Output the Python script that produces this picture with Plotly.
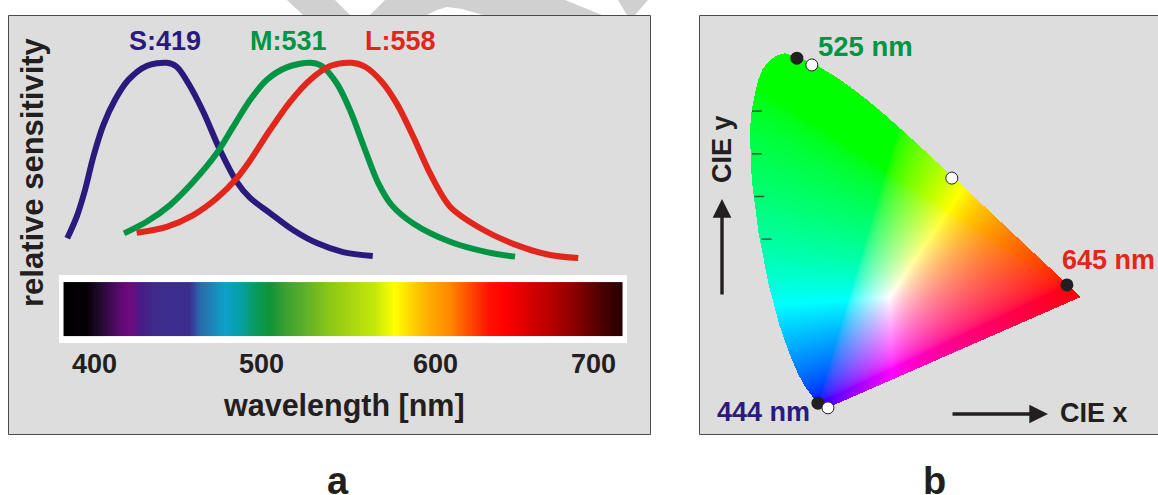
import numpy as np
import plotly.graph_objects as go

W, H = 1158, 495

# ---- panel a data ----
S_NM = [383.3,389,394,399,405,412,420.1,431.1,443.2,449.2,456.2,465.2,475.3,485.4,493.4,505.4,519.3,533.7,549.4,567.3]
S_VAL = [.109,.218,.352,.519,.678,.804,.905,.975,.991,.971,.888,.745,.553,.393,.312,.236,.151,.085,.04,.02]
M_NM = [417.5,431.1,445.2,459.2,473.3,483.3,493.4,503.4,515.5,529.5,536.6,545.6,553.6,562.7,570.7,578.7,591.7,613.9,636,653]
M_VAL = [.134,.192,.276,.393,.536,.67,.804,.905,.968,.991,.975,.888,.754,.553,.385,.276,.184,.092,.04,.017]
L_NM = [425.1,443.2,459.2,473.3,485.4,493.4,505.4,517.5,529.5,541.6,554.6,562.7,572.7,581.7,591.7,601.8,613.9,631.9,654,674.1,691.1]
L_VAL = [.137,.167,.226,.31,.411,.5,.653,.795,.905,.975,.991,.971,.896,.787,.62,.436,.268,.161,.075,.025,.01]

SPECTRUM_NM = [381.3,395.2,403,415.1,421.1,427.1,436.1,457.2,463.3,478.3,487.3,496.4,505.4,514.5,526.5,541.6,550.6,568.7,580.7,589.8,601.8,613.9,625.9,638,647,662,677.1,692.2,704.2,717.5]
SPECTRUM_COLORS = ["#000000","#050005","#220a30","#5a0a70","#700a80","#4a1a85","#3e2c8c","#3a2f90","#2a6aaa","#0ea0c8","#05a0a8","#0a9a60","#0e9438","#3aa032","#5cb028","#8cc818","#a0d010","#c4e80a","#ffff00","#ffd800","#ffaa00","#ff8800","#ff4a00","#ff1000","#ff0000","#d80000","#b00000","#800000","#500000","#2a0000"]

TICK_LABELS = ["400", "500", "600", "700"]
TICK_NM = [400, 500, 605, 700]

# ---- panel b data: CIE 1931 spectral locus ----
LOCUS_X = [.1741,.1714,.1644,.1566,.1440,.1241,.1096,.0913,.0687,.0454,.0235,.0082,.0039,.008,.0155,.0221,.0331,.0486,.064,.0817,.1142,.1547,.1929,.2296,.2658,.3016,.3373,.3731,.4087,.4441,.4788,.5125,.5448,.5752,.6029,.6270,.6658,.6915,.7079,.7190,.7260,.7347]
LOCUS_Y = [.0050,.0051,.0109,.0177,.0297,.0578,.0868,.1327,.2007,.2950,.4127,.5384,.6548,.7026,.7424,.7728,.801,.8197,.8314,.836,.8262,.8059,.7816,.7543,.7243,.6923,.6589,.6245,.5896,.5547,.5202,.4866,.4544,.4242,.3965,.3725,.3340,.3083,.2920,.2809,.2740,.2653]
BLACK_X = [.108, .704, .1545]
BLACK_Y = [.824, .293, .016]
WHITE_X = [.141, .450, .1766]
WHITE_Y = [.808, .543, .005]
TICK_Y = [.7, .6, .5, .4]

# primaries and white of the colour field
PRIM_R, PRIM_G, PRIM_B = (.704, .293), (.305, .56), (.1545, .016)
WHITE_POINT = (.313, .265)

NAVY, GREEN, RED, INK = "#2b1a7d", "#009444", "#e1261c", "#231f20"
FONT = "Liberation Sans"

def px(x):
    return x / W
def py(y):
    return 1 - y / H

fig = go.Figure()

# spectrum strip
lo, hi = SPECTRUM_NM[0], SPECTRUM_NM[-1]
cs = [[(n - lo) / (hi - lo), c] for n, c in zip(SPECTRUM_NM, SPECTRUM_COLORS)]
nm = np.arange(lo, hi + 0.5, 0.5)
fig.add_trace(go.Heatmap(x=nm, y=[-.314, -.1785], z=np.vstack([nm, nm]), zmin=lo, zmax=hi,
                         colorscale=cs, showscale=False, xaxis="x", yaxis="y", hoverinfo="skip"))

for xs, ys, c, name in [(S_NM, S_VAL, NAVY, "S:419"), (M_NM, M_VAL, GREEN, "M:531"), (L_NM, L_VAL, RED, "L:558")]:
    fig.add_trace(go.Scatter(x=xs, y=ys, mode="lines", name=name, showlegend=False,
                             line=dict(color=c, width=6, shape="spline", smoothing=0.9),
                             xaxis="x", yaxis="y"))

# chromaticity field
def rgb_field(x, y):
    prim = np.array([[p[0], p[1], 1 - p[0] - p[1]] for p in (PRIM_R, PRIM_G, PRIM_B)]).T
    wp = np.array([WHITE_POINT[0], WHITE_POINT[1], 1 - sum(WHITE_POINT)])
    scale = np.linalg.solve(prim, wp)
    inv = np.linalg.inv(prim * scale)
    v = np.stack([x, y, 1 - x - y], axis=-1) @ inv.T
    v = np.clip(v, 0, None)
    v = v / np.maximum(v.max(axis=-1, keepdims=True), 1e-6)
    return 255 * v ** (1 / 1.7)

dx, dy = 1 / 453, 1 / 427
gx = np.arange(-.01, .75, dx)
gy = np.arange(-.01, .85, dy)
X, Y = np.meshgrid(gx, gy)
inside = np.zeros(X.shape, dtype=bool)
lx, ly = np.array(LOCUS_X), np.array(LOCUS_Y)
for i in range(len(lx)):
    j = (i + 1) % len(lx)
    c = ((ly[i] > Y) != (ly[j] > Y)) & (X < (lx[j] - lx[i]) * (Y - ly[i]) / (ly[j] - ly[i] + 1e-12) + lx[i])
    inside ^= c
rgba = np.concatenate([np.round(rgb_field(X, Y)), inside[..., None].astype(float)], axis=-1)
fig.add_trace(go.Image(z=rgba.tolist(), colormodel="rgba", x0=gx[0], y0=gy[0], dx=dx, dy=dy,
                       xaxis="x2", yaxis="y2", hoverinfo="skip"))

# ticks on the left edge of the locus
for ty, x0 in zip(TICK_Y, [.009, .009, .014, .03]):
    fig.add_trace(go.Scatter(x=[x0, x0 + .022], y=[ty, ty], mode="lines", showlegend=False,
                             line=dict(color="#2a5a30", width=1.5), xaxis="x2", yaxis="y2", hoverinfo="skip"))

fig.add_trace(go.Scatter(x=BLACK_X, y=BLACK_Y, mode="markers", showlegend=False,
                         marker=dict(color=INK, size=13), xaxis="x2", yaxis="y2"))
fig.add_trace(go.Scatter(x=WHITE_X, y=WHITE_Y, mode="markers", showlegend=False,
                         marker=dict(color="white", size=12, line=dict(color=INK, width=1)), xaxis="x2", yaxis="y2"))

# panels, white strip frame, watermark
shapes = []
def rect(x0, y0, x1, y1, fill, line=None):
    shapes.append(dict(type="rect", xref="paper", yref="paper", x0=px(x0), x1=px(x1), y0=py(y0), y1=py(y1),
                       fillcolor=fill, line=dict(color=line or fill, width=1 if line else 0), layer="below"))
def poly(pts, fill):
    d = "M" + " L".join(f"{px(a):.5f},{py(b):.5f}" for a, b in pts) + " Z"
    shapes.append(dict(type="path", xref="paper", yref="paper", path=d, fillcolor=fill, line=dict(width=0), layer="below"))
WM = "#d0d0d0"
poly([(287, 0), (303, 15), (350, 15), (335, 0)], WM)
poly([(385, 0), (370, 15), (427, 15), (437, 10), (447, 7), (462, 9), (483, 15), (602, 15), (565, 0)], WM)
poly([(618, 0), (627, 15), (635, 15), (648, 0)], WM)
rect(8.5, 15.5, 650.5, 434.5, "#dddddd", "#4a4a4a")
rect(699.5, 15.5, 1160, 434.5, "#dddddd", "#4a4a4a")
rect(59, 275, 627, 343, "#ffffff")

anns = []
def text(s, x, y, size, color=INK, angle=0, anchor="center", ref=("paper", "paper")):
    if ref[0] == "paper":
        x, y = px(x), py(y)
    anns.append(dict(text=f"<b>{s}</b>", x=x, y=y, xref=ref[0], yref=ref[1], xanchor=anchor, yanchor="middle",
                     showarrow=False, textangle=angle, font=dict(family=FONT, size=size, color=color)))
def arrow(x, y, x_from, y_from):
    anns.append(dict(text="", x=px(x), y=py(y), xref="paper", yref="paper", ax=x_from - x, ay=y_from - y,
                     axref="pixel", ayref="pixel", showarrow=True, arrowhead=2, arrowsize=1.1, arrowwidth=3.4,
                     arrowcolor=INK))

text("S:419", 165, 41, 27, NAVY)
text("M:531", 288, 41, 27, GREEN)
text("L:558", 400, 41, 27, RED)
text("relative sensitivity", 32, 172, 31, INK, -90)
for lab, n in zip(TICK_LABELS, TICK_NM):
    anns.append(dict(text=f"<b>{lab}</b>", x=n, y=-.52, xref="x", yref="y", showarrow=False,
                     font=dict(family=FONT, size=27, color=INK)))
text("wavelength [nm]", 344, 405, 30.5)
text("a", 338, 481, 38)
text("525 nm", 865, 47, 27.5, GREEN)
text("645 nm", 1108, 260, 27, RED)
text("444 nm", 763, 412, 27, NAVY)
text("CIE y", 722, 149, 27, INK, -90)
text("CIE x", 1094, 413, 27)
text("b", 935, 481, 38)
arrow(722, 199, 722, 296)
arrow(1048, 414, 951, 414)

axis = dict(visible=False, fixedrange=True)
fig.update_layout(
    width=W, height=H, margin=dict(l=0, r=0, t=0, b=0),
    paper_bgcolor="white", plot_bgcolor="rgba(0,0,0,0)", showlegend=False,
    xaxis=dict(axis, domain=[px(8), px(650)], range=[347.6, 734.3], anchor="y"),
    yaxis=dict(axis, domain=[py(434), py(15)], range=[-.874, 1.231], anchor="x"),
    xaxis2=dict(axis, domain=[px(699), 1], range=[-.108, .905], anchor="y2"),
    yaxis2=dict(axis, domain=[py(434), py(15)], range=[-.0562, .925], anchor="x2", autorange=False, scaleanchor=False),
    shapes=shapes, annotations=anns,
)
fig.write_html("out.html", config=dict(displayModeBar=False), post_script="document.body.style.margin='0';")
